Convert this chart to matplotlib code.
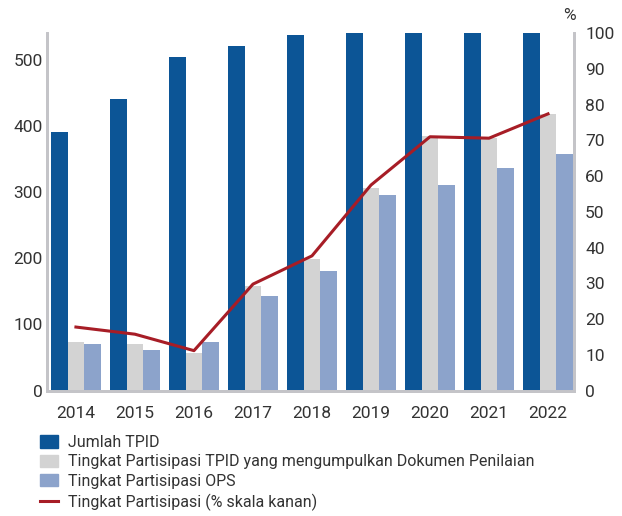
import matplotlib.pyplot as plt
import numpy as np
from matplotlib.patches import Patch
from matplotlib.lines import Line2D

# data
tahun = ["2014", "2015", "2016", "2017", "2018", "2019", "2020", "2021", "2022"]
jumlah_tpid = [390, 440, 504, 521, 537, 542, 542, 542, 542]
tpid_dokumen = [74, 71, 57, 158, 199, 306, 384, 382, 418]
tpid_ops = [71, 62, 74, 143, 181, 296, 311, 336, 358]
partisipasi_pct = [17.8, 15.8, 11.2, 29.8, 37.7, 57.5, 71.0, 70.6, 77.4]

label_jumlah = "Jumlah TPID"
label_dokumen = "Tingkat Partisipasi TPID yang mengumpulkan Dokumen Penilaian"
label_ops = "Tingkat Partisipasi OPS"
label_pct = "Tingkat Partisipasi (% skala kanan)"

c_blue = "#0c5596"
c_grey = "#d3d3d3"
c_light = "#8ca3cb"
c_red = "#a71d26"
c_axis = "#c4c4c8"
c_text = "#333333"

plt.rcParams["font.family"] = ["Roboto", "DejaVu Sans"]

fig = plt.figure(figsize=(6.22, 5.16), dpi=100)
ax = fig.add_axes([0.0756, 0.2428, 0.8472, 0.6932])
ax2 = ax.twinx()

# batang per tahun
x = np.arange(len(tahun))
w = 0.285
ax.bar(x - w, jumlah_tpid, w, color=c_blue)
ax.bar(x, tpid_dokumen, w, color=c_grey)
ax.bar(x + w, tpid_ops, w, color=c_light)
ax2.plot(x, partisipasi_pct, color=c_red, lw=2.2)

ax.set_xlim(-0.49, 8.44)
ax.set_ylim(0, 540)
ax2.set_ylim(0, 100)
ax.set_xticks(x)
ax.set_xticklabels(tahun)
ax.set_yticks(range(0, 501, 100))
ax2.set_yticks(range(0, 101, 10))

for a in (ax, ax2):
    a.spines["top"].set_visible(False)
    for s in ("left", "right", "bottom"):
        a.spines[s].set_color(c_axis)
        a.spines[s].set_linewidth(2)
    a.tick_params(length=0, labelsize=12.5, colors=c_text)
ax.tick_params(axis="x", pad=11)
ax.tick_params(axis="y", pad=3)
ax2.tick_params(axis="y", pad=8)

fig.text(0.915, 0.969, "%", fontsize=12.5, color=c_text, ha="center", va="center")

# legenda
handles = [
    Patch(color=c_blue),
    Patch(color=c_grey),
    Patch(color=c_light),
    Line2D([0], [0], color=c_red, lw=2.2),
]
fig.legend(handles, [label_jumlah, label_dokumen, label_ops, label_pct],
           loc="upper left", bbox_to_anchor=(0.064, 0.157), frameon=False,
           fontsize=11.5, labelcolor=c_text, handlelength=1.15, handleheight=0.8,
           handletextpad=0.62, labelspacing=0.28, borderpad=0, borderaxespad=0)

fig.savefig("out.png", dpi=100)
